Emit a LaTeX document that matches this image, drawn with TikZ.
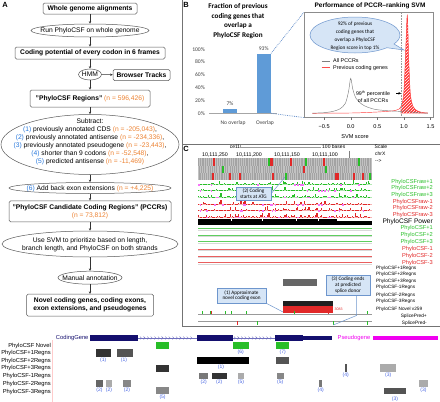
\documentclass[tikz,border=0pt]{standalone}
\usepackage{fontspec}
\setmainfont{Liberation Sans}
\newfontfamily\calfont{Carlito}
\usetikzlibrary{shapes.geometric,shapes.callouts,arrows.meta,patterns}
\definecolor{onum}{RGB}{236,130,50}
\definecolor{bnum}{RGB}{40,120,220}
\definecolor{barblue}{RGB}{95,155,215}
\definecolor{callfill}{RGB}{214,229,246}
\definecolor{calldraw}{RGB}{110,150,205}
\definecolor{gnavy}{RGB}{20,15,110}
\definecolor{intron}{RGB}{110,110,190}
\definecolor{trgreen}{RGB}{40,190,40}
\definecolor{trred}{RGB}{225,40,40}
\definecolor{magent}{RGB}{240,0,240}
\definecolor{labnum}{RGB}{70,100,225}
\newcommand\fsz[2]{\fontsize{#1}{#2}\selectfont}
\newcommand\zb[2][-2.5pt]{\makebox[0pt]{\smash{\raisebox{#1}{\begin{tabular}{@{}c@{}}#2\end{tabular}}}}}
\newcommand\on[1]{\textcolor{onum}{#1}}
\newcommand\bn[1]{\textcolor{bnum}{#1}}
\begin{document}
\begin{tikzpicture}[x=1pt,y=-1pt,
  abox/.style={draw=black!65,rounded corners=1.6pt,line width=0.5pt,inner sep=0pt,align=center,font=\fsz{6.7}{8}\bfseries},
  aell/.style={draw=black!65,ellipse,line width=0.5pt,inner sep=0pt,font=\fsz{6.7}{8}},
  arr/.style={-{Stealth[length=2.6pt,width=2.4pt]},line width=0.5pt,black!80},
  plbl/.style={font=\bfseries\fsz{7.5}{8},inner sep=0pt},
  cal/.style={font=\calfont\fsz{5.6}{6},inner sep=0pt,text=black!75},
  axl/.style={font=\fsz{5.6}{6},inner sep=0pt},
  trl/.style={anchor=east,font=\fsz{5.7}{6},inner sep=0pt},
  rgl/.style={anchor=west,font=\fsz{4.7}{5},inner sep=0pt},
  cbox/.style={draw=calldraw,fill=callfill,line width=0.5pt,inner sep=0.5pt,align=center,font=\calfont\fsz{5.2}{5.6}},
  cline/.style={draw=calldraw,line width=0.5pt},
  gl/.style={anchor=east,font=\fsz{5.8}{6},inner sep=0pt},
  nl/.style={font=\fsz{5}{5},text=labnum,inner sep=0pt},
]
\useasboundingbox (0,0) rectangle (440,402);
% ================= Panel A
\node[plbl] (pA) at (5,5) {A};
\node[abox,minimum width=94,minimum height=11] (w) at (90,8.5) {Whole genome alignments};
\node[aell,minimum width=118,minimum height=13] (r) at (90,30.5) {\zb{Run PhyloCSF on whole genome}};
\node[abox,minimum width=150,minimum height=12] (cp) at (90,53) {Coding potential of every codon in 6 frames};
\node[aell,minimum width=23,minimum height=11] (hmm) at (90,74.5) {\zb{HMM}};
\node[abox,minimum width=57,minimum height=11] (bt) at (141.5,75) {Browser Tracks};
\node[abox,minimum width=120,minimum height=17] (pr) at (90,98.5) {"PhyloCSF Regions" \on{\mdseries(n = 596,426)}};
\node[aell,minimum width=178,minimum height=60] (sub) at (90,144.5) {\zb[1pt]{Subtract:\\
 \bn{(1)} previously annotated CDS \on{(n = -205,043)},\\
 \bn{(2)} previously annotated antisense \on{(n = -234,336)},\\
 \bn{(3)} previously annotated pseudogene \on{(n = -23,443)},\\
 \bn{(4)} shorter than 9 codons \on{(n = -52,548)},\\
 \bn{(5)} predicted antisense \on{(n = -11,469)}}};
\node[aell,minimum width=162,minimum height=11] (add) at (90,188) {\zb{\bn{(6)} Add back exon extensions \on{(n = +4,225)}}};
\node[abox,minimum width=162,minimum height=21] (pc) at (90,211.3) {"PhyloCSF Candidate Coding Regions" (PCCRs)\\ \on{\mdseries(n = 73,812)}};
\node[aell,minimum width=176,minimum height=26] (svm) at (90,244) {\zb{Use SVM to prioritize based on length,\\branch length, and PhyloCSF on both strands}};
\node[aell,minimum width=64,minimum height=13] (man) at (90,277.7) {\zb{Manual annotation}};
\node[abox,minimum width=127,minimum height=22] (nov) at (90,305.2) {Novel coding genes, coding exons,\\exon extensions, and pseudogenes};
\draw[arr] (w) -- (r);
\draw[arr] (r) -- (cp);
\draw[arr] (cp) -- (hmm);
\draw[arr] (hmm) -- (pr);
\draw[arr] (hmm) -- (bt);
\draw[arr] (pr) -- (sub);
\draw[arr] (sub) -- (add);
\draw[arr] (add) -- (pc);
\draw[arr] (pc) -- (svm);
\draw[arr] (svm) -- (man);
\draw[arr] (man) -- (nov);
% ================= frames
\draw[black!55,line width=0.5pt] (182,0) -- (182,326.5) -- (440,326.5);
\draw[black!55,line width=0.5pt] (182,144.5) -- (440,144.5);
% ================= Panel B (bar chart)
\node[plbl] (pB) at (186,5) {B};
\node[font=\calfont\bfseries\fsz{7.2}{9.6},align=center,inner sep=0pt] (btit) at (238,21) {Fraction of previous\\coding genes that\\overlap a\\PhyloCSF Region};
\foreach \p [count=\k] in {0,20,40,60,80,100}
  \node[cal,anchor=east] (ya\k) at (205,{113.3-0.64*\p}) {\p\%};
\draw[black!35,line width=0.5pt] (209,113.3) -- (277,113.3);
\node[fill=barblue,minimum width=14.6,minimum height=4.5,inner sep=0,anchor=south] (bno) at (230,113.3) {};
\node[fill=barblue,minimum width=14.2,minimum height=59.5,inner sep=0,anchor=south] (bov) at (263.7,113.3) {};
\node[cal,anchor=south] (l7) at ([yshift=2.5pt]bno.north) {7\%};
\node[cal,anchor=south] (l93) at ([yshift=2.5pt]bov.north) {93\%};
\node[cal] (xno) at (233,122.7) {No overlap};
\node[cal] (xov) at (265,122.7) {Overlap};
% ================= SVM plot
\node[font=\bfseries\fsz{6.5}{7},inner sep=0pt] (stit) at (370,6) {Performance of PCCR–ranking SVM};
\node[draw=black!45,line width=0.5pt,minimum width=129,minimum height=104.6,inner sep=0] (pf) at (368.5,65) {};
\draw[calldraw,densely dotted,line width=0.8pt] (bov.north east) -- (pf.north west);
\draw[calldraw,densely dotted,line width=0.8pt] (bov.south east) -- (pf.south west);
\begin{scope}[shift={(350.7,113.3)},x=53.2pt,y=1pt]
  \begin{scope}
    \clip (0.94,-1) rectangle (1.5,101);
    \fill[red!80] plot[smooth] coordinates {(-0.72,0) (0,0.3) (0.3,0.8) (0.6,1.6) (0.85,3) (0.95,7) (1.0,22) (1.035,65) (1.064,98) (1.09,55) (1.12,20) (1.17,7) (1.25,2.5) (1.35,0.8) (1.45,0.3)} -- (1.45,0) -- cycle;
    \fill[pattern=north east lines,pattern color=white] plot[smooth] coordinates {(-0.72,0) (0,0.3) (0.3,0.8) (0.6,1.6) (0.85,3) (0.95,7) (1.0,22) (1.035,65) (1.064,98) (1.09,55) (1.12,20) (1.17,7) (1.25,2.5) (1.35,0.8) (1.45,0.3)} -- (1.45,0) -- cycle;
  \end{scope}
  \draw[red!75,line width=0.45pt] plot[smooth] coordinates {(-0.72,0) (0,0.3) (0.3,0.8) (0.6,1.6) (0.85,3) (0.95,7) (1.0,22) (1.035,65) (1.064,98) (1.09,55) (1.12,20) (1.17,7) (1.25,2.5) (1.35,0.8) (1.45,0.3)};
  \draw[black!50,line width=0.45pt] plot[smooth] coordinates {(-0.72,0.2) (-0.5,0.6) (-0.33,2) (-0.2,4.5) (-0.1,10) (-0.04,22) (0,35) (0.04,24) (0.1,15) (0.2,9.5) (0.3,6.5) (0.45,4) (0.6,3) (0.8,2.2) (0.95,2) (1.05,2.5) (1.15,1.2) (1.3,0.4) (1.45,0.2)};
\end{scope}
\draw[black!40,densely dotted,line width=0.6pt] (401,13) -- (401,117.3);
\foreach \v/\t [count=\k] in {-0.5/−0.5,0/0.0,0.5/0.5,1/1.0,1.5/1.5}{
  \draw[black!55,line width=0.4pt] ({350.7+53.2*\v},117.3) -- ({350.7+53.2*\v},120);
  \node[axl] (tk\k) at ({350.7+53.2*\v},126.7) {\t};
}
\node[axl] (sx) at (355,136.3) {SVM score};
\draw[black!50,line width=0.6pt] (321.7,61) -- (330,61);
\node[axl,anchor=west,font=\fsz{5.4}{6}] (lg1) at (333,61) {All PCCRs};
\draw[red!70,line width=0.6pt] (321.7,67.7) -- (330,67.7);
\node[axl,anchor=west,font=\fsz{5.4}{6}] (lg2) at (333,67.7) {Previous coding genes};
\node[axl,align=center,font=\fsz{5.3}{6.8}] (pct) at (373,96.5) {99\textsuperscript{th} percentile\\of all PCCRs};
\coordinate (p99) at (401,93.3);
\draw[-{Stealth[length=2.6pt,width=2.6pt]},line width=0.5pt] (396,93.3) -- (p99);
\node[ellipse callout,draw=calldraw,fill=callfill,line width=0.5pt,minimum width=90,minimum height=36,inner sep=0pt,
  callout absolute pointer={(404,50)},font=\calfont\fsz{5.3}{8}] (bub) at (355,35) {\zb{92\% of previous\\coding genes that\\overlap a PhyloCSF\\Region score in top 1\%}};
% ================= Panel C
\node[plbl] (pC) at (186,148.5) {C};
\node[axl,font=\fsz{5}{5}] (ce) at (235,146.7) {ce11};
\draw[black!40,line width=0.4pt] (240,146.7) -- (321,146.7);
\draw[black!40,line width=0.4pt] (240,145) -- (240,148.4);
\node[axl,anchor=west,font=\fsz{5}{5}] (hb) at (322,146.7) {100 bases};
\node[axl,font=\fsz{5}{5}] (sc) at (381,146.7) {Scale};
\node[axl,font=\fsz{5.3}{5}] (q1) at (215,155) {10,111,250};
\node[axl,font=\fsz{5.3}{5}] (q2) at (249,155) {10,111,200};
\node[axl,font=\fsz{5.3}{5}] (q3) at (287,155) {10,111,150};
\node[axl,font=\fsz{5.3}{5}] (q4) at (325,155) {10,111,100};
\draw[black!50,line width=0.4pt] (349,150.5) -- (349,157.5);
\node[axl,anchor=west,font=\fsz{5}{5}] (chr) at (375,153.3) {chrX};
\node[axl,anchor=west,font=\fsz{5}{5}] (dir) at (375,160.7) {-{}-{}>};
% codon frames
\foreach \r in {0,1,2}{
  \fill[gray!48] (198,{158.3+7.23*\r}) rectangle (372,{165.53+7.23*\r});
  \foreach \x in {198,200.2,...,370}{
    \fill[gray!72] ({\x+0.73*\r},{158.3+7.23*\r}) rectangle ++(1.1,7.23);
  }
}
\foreach \x/\r/\c in {213/0/trred,268/0/trgreen,270.4/0/trred,290/0/trred,305/0/trgreen,323/0/trred,358/0/trgreen,
  221.5/1/trgreen,303/1/trred,325/1/trgreen,211.5/2/trred,229/2/trred,239/2/trred,271.5/2/trred,285/2/trgreen,
  335/2/trred,337.2/2/trred,353/2/trred,361.5/2/trred,369/2/trgreen}
  \fill[\c] (\x,{158.3+7.23*\r}) rectangle ++(2.2,7.23);
% raw tracks
\pgfmathsetseed{11}
\foreach \yy/\c in {182.3/trgreen,188.3/trgreen,195/trgreen,202.3/trred,208.3/trred,215/trred}{
  \draw[\c!35,line width=0.3pt] (198,{\yy+1.8}) -- (372,{\yy+1.8});
  \foreach \x in {198,199.6,...,370.4}{
    \pgfmathsetmacro\hh{0.25+3.6*rnd^6}
    \fill[\c] (\x,{\yy+1.8}) rectangle ++(1.1,-\hh);
    \pgfmathsetmacro\qq{rnd}
    \ifdim\qq pt>0.86pt \fill[magent!55] (\x,{\yy+2.1}) rectangle ++(1.6,1.1);\fi
  }
}
% power
\fill[black] (198,218.8) rectangle (337,224.6);
\fill[black] (337,220.6) rectangle (372,224.6);
\foreach \x in {231,262,296,318} \fill[white] (\x,218.8) rectangle ++(0.5,2);
% smoothed tracks
\foreach \yy/\c in {228.3/trgreen,235/trgreen,241.7/trgreen,249/trred,256/trred,262.7/trred}{
  \draw[gray!30,line width=0.4pt] (198,{\yy+1.4}) -- (372,{\yy+1.4});
  \draw[\c!75,line width=0.6pt] (198,\yy) -- (372,\yy);
}
% regions / novel
\fill[black!60] (283,279) rectangle (317,285.7);
\fill[black!88] (283,300.7) rectangle (333,305.7);
\fill[trred] (283,306) rectangle (333,313);
\node[axl,anchor=west,font=\fsz{3.6}{4},text=trred] (n3083) at (334.5,309.5) {3083};
% splice tracks
\draw[black!40,line width=0.4pt] (198,314.3) -- (372,314.3);
\draw[black!40,line width=0.4pt] (198,320.7) -- (372,320.7);
\foreach \x in {202.3,209.6,225,231,245.7,294,366.7} \fill[trgreen] (\x,314.3) rectangle ++(0.7,-3.5);
\foreach \x in {210.6,328.3} \fill[trred] (\x,314.3) rectangle ++(0.7,-3);
\fill[trred] (236.7,320.7) rectangle ++(0.7,4);
\foreach \x in {256.7,333.3,366.7} \fill[trgreen] (\x,320.7) rectangle ++(0.7,4.5);
% track labels
\foreach \t/\yy/\c [count=\k] in {PhyloCSFraw+1/182.3/trgreen,PhyloCSFraw+2/188.3/trgreen,PhyloCSFraw+3/195/trgreen,
  PhyloCSFraw-1/202.3/trred,PhyloCSFraw-2/208.3/trred,PhyloCSFraw-3/215/trred,
  PhyloCSF+1/228.3/trgreen,PhyloCSF+2/235/trgreen,PhyloCSF+3/241.7/trgreen,
  PhyloCSF-1/249/trred,PhyloCSF-2/256/trred,PhyloCSF-3/262.7/trred}
  \node[trl,text=\c] (tl\k) at (433,\yy) {\t};
\node[trl,font=\fsz{6.6}{7}] (tpow) at (433,221.7) {PhyloCSF Power};
\foreach \t/\yy [count=\k] in {PhyloCSF+1Regns/268.3,PhyloCSF+2Regns/274.3,PhyloCSF+3Regns/281,
  PhyloCSF-1Regns/287.7,PhyloCSF-2Regns/295,PhyloCSF-3Regns/301.7,PhyloCSF Novel v259/309}
  \node[rgl] (rl\k) at (376,\yy) {\t};
\node[trl,font=\fsz{4.8}{5}] (sp1) at (427,316.7) {SplicePred+};
\node[trl,font=\fsz{4.8}{5}] (sp2) at (427,323.3) {SplicePred-};
% callouts
\node[cbox,minimum width=35,minimum height=13] (c2) at (253.5,193.5) {(2) Coding\\starts at ATG};
\node[cbox,minimum width=49,minimum height=15] (c1) at (241.5,295.5) {(1) Approximate\\novel coding exon};
\node[cbox,minimum width=44,minimum height=20] (c3) at (348,285) {(3) Coding ends\\at predicted\\splice donor};
\coordinate (m2) at (285,177);
\coordinate (m1) at (283,312);
\coordinate (m3a) at (356.5,315.5);
\coordinate (m3) at (333.3,325);
\draw[cline] (c2.east) -- (m2);
\draw[cline] (c1.south east) -- (m1);
\draw[cline] (c3.south -| m3a) -- (m3a) -- (m3);
% ================= gene model (bottom)
\draw[red!20,line width=0.4pt] (52,340) -- (52,402);
\foreach \t/\yy [count=\k] in {PhyloCSF Novel/345.7,PhyloCSF+1Regns/353.3,PhyloCSF+2Regns/360.7,PhyloCSF+3Regns/368.3,
  PhyloCSF-1Regns/376,PhyloCSF-2Regns/384,PhyloCSF-3Regns/391.7}
  \node[gl] (gl\k) at (51,\yy) {\t};
\node[gl,anchor=west,text=gnavy] (cg) at (55.7,338) {CodingGene};
\draw[intron,line width=0.35pt] (138,338) -- (197,338);
\draw[intron,line width=0.35pt] (232,338) -- (275,338);
\foreach \x in {140,143.6,...,194} \draw[intron,line width=0.4pt] (\x,336.6) -- (\x+1.4,338) -- (\x,339.4);
\foreach \x in {234,237.6,...,272} \draw[intron,line width=0.4pt] (\x,336.6) -- (\x+1.4,338) -- (\x,339.4);
\fill[gnavy] (90,335) rectangle (138.3,341);
\fill[gnavy] (197,335) rectangle (232.5,341);
\fill[gnavy] (275,335) rectangle (303,341);
\fill[gnavy] (303,336.4) rectangle (331.7,340);
\node[gl,anchor=center,text=magent] (pg) at (354,338) {Pseudogene};
\fill[magent] (372.7,336) rectangle (437.7,340);
% blocks
\foreach \xa/\xb/\ya/\yb/\c in {
  156/169.3/342/349/trgreen, 232.7/249/342/349/trgreen, 276/289.3/342/349/trgreen,
  95.7/111/349/356.7/black!80, 116.7/133.3/349/356.7/black!67,
  197/249/357.3/364/black, 276/289.3/357.3/364/black!67,
  156/169.3/365/372/black!80, 345/347.3/364/372/black!67, 380/396/364/372/black!33,
  199.3/208.3/373/379.3/black!53, 211.7/227/373/379.3/black!80, 237.7/243.7/373/379.3/black!33, 276.7/284.3/373/379.3/black!47,
  95.7/103.3/380/387/black!60, 106/112.3/380/387/black!33, 122.7/130.7/380/387/black!47,
  319.3/322/380/387/black!53, 419.3/427.7/380/387/black!33,
  156/169.3/387.3/394/black!47, 384.3/406/387.7/394.3/black!67}
  \fill[\c] (\xa,\ya) rectangle (\xb,\yb);
\foreach \x/\yy/\t [count=\k] in {240.8/352.3/(6),282.7/352.3/(7),
  103.3/360.7/(1),124/360.7/(1),221/367.3/(1),
  345.7/375.3/(4),388.3/375.3/(3),
  203.7/382.3/(2),219.3/382.3/(2),241/382.3/(5),280.3/382.3/(5),
  99.5/390.3/(2),109/390.3/(2),127/390.3/(2),320.7/390.3/(4),423.5/390.3/(3),
  162.6/397.3/(5),395/399/(3)}
  \node[nl] (bn\k) at (\x,\yy) {\t};
\end{tikzpicture}
\end{document}
